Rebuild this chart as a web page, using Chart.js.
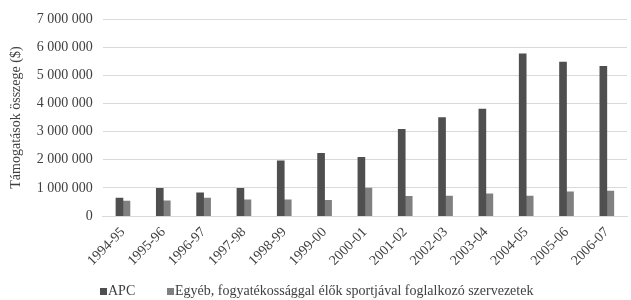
<!DOCTYPE html>
<html>
<head>
<meta charset="utf-8">
<script src="https://cdn.jsdelivr.net/npm/chart.js@4/dist/chart.umd.min.js"></script>
<style>
  html, body {
    margin: 0;
    padding: 0;
    background: #ffffff;
  }

  #wrap {
    position: relative;
    width: 631px;
    height: 300px;
  }

  #legend {
    position: absolute;
    left: 0;
    top: 283px;
    width: 631px;
    font-family: 'Liberation Serif', serif;
    font-size: 14px;
    line-height: 16px;
    color: #404040;
  }

  .item {
    position: absolute;
    top: 0;
    white-space: nowrap;
  }

  .box {
    display: inline-block;
    width: 7px;
    height: 7px;
    margin-right: 1px;
  }
</style>
</head>
<body>
<div id="wrap">
  <canvas id="chart" width="631" height="300"></canvas>
  <div id="legend"></div>
</div>

<script>
const seasons = [
  '1994-95', '1995-96', '1996-97', '1997-98', '1998-99',
  '1999-00', '2000-01', '2001-02', '2002-03', '2003-04',
  '2004-05', '2005-06', '2006-07',
];

const apcValues = [
  640000, 990000, 830000, 990000, 1960000,
  2230000, 2090000, 3080000, 3500000, 3800000,
  5760000, 5470000, 5320000,
];

const otherValues = [
  530000, 540000, 640000, 580000, 580000,
  560000, 1000000, 700000, 710000, 790000,
  710000, 860000, 890000,
];

const seriesNames = [
  'APC',
  'Egyéb, fogyatékossággal élők sportjával foglalkozó szervezetek',
];

const seriesColors = [
  '#4f4f4f',
  '#808080',
];

const yTitle =
  'Támogatások összege ($)';

const serif =
  "'Liberation Serif', 'Times New Roman', serif";

// y tick labels with space as thousands separator
const formatTick = value =>
  String(value).replace(
    /\B(?=(\d{3})+(?!\d))/g,
    ' '
  );

new Chart(
  document.getElementById('chart'),
  {
    type: 'bar',

    data: {
      labels: seasons,

      datasets: [
        {
          label: seriesNames[0],
          data: apcValues,
          backgroundColor: seriesColors[0],
          barThickness: 7,
          categoryPercentage: 0.44,
        },
        {
          label: seriesNames[1],
          data: otherValues,
          backgroundColor: seriesColors[1],
          barThickness: 7,
          categoryPercentage: 0.44,
        },
      ],
    },

    options: {
      responsive: false,
      animation: false,

      layout: {
        padding: {
          left: 6,
          top: 19,
          right: 4,
          bottom: 31,
        },
      },

      plugins: {
        legend: {
          display: false,
        },
        tooltip: {
          enabled: false,
        },
      },

      scales: {
        x: {
          grid: {
            display: false,
          },
          border: {
            color: '#d9d9d9',
            width: 1,
          },
          ticks: {
            color: '#404040',
            minRotation: 45,
            maxRotation: 45,
            padding: 0,
            font: {
              family: serif,
              size: 14,
            },
          },
        },

        y: {
          min: 0,
          max: 7000000,
          border: {
            display: false,
          },
          grid: {
            color: '#d9d9d9',
            drawTicks: false,
          },
          ticks: {
            stepSize: 1000000,
            color: '#404040',
            padding: 10,
            callback: formatTick,
            font: {
              family: serif,
              size: 14,
            },
          },
          title: {
            display: true,
            text: yTitle,
            color: '#404040',
            padding: 2,
            font: {
              family: serif,
              size: 14,
            },
          },
        },
      },
    },
  }
);

// LEGEND

const legend =
  document.getElementById('legend');

const legendLeft = [100, 167];

seriesNames.forEach((name, i) => {
  const item = document.createElement('span');
  item.className = 'item';
  item.style.left = legendLeft[i] + 'px';

  const box = document.createElement('span');
  box.className = 'box';
  box.style.background = seriesColors[i];

  item.appendChild(box);
  item.appendChild(document.createTextNode(name));
  legend.appendChild(item);
});
</script>
</body>
</html>
